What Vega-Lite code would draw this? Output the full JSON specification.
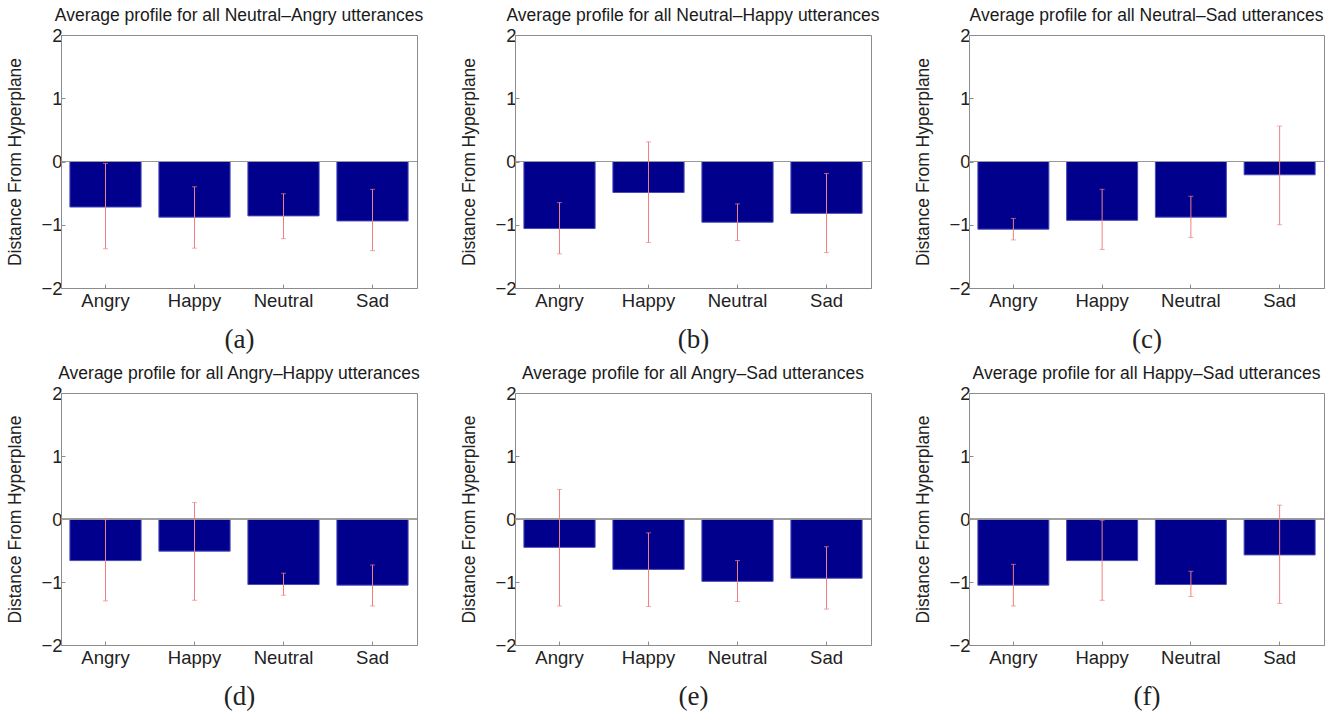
{
  "$schema": "https://vega.github.io/schema/vega-lite/v6.json",
  "padding": {"left": 6, "top": 6, "right": 5, "bottom": 5},
  "background": "white",
  "datasets": {
    "profiles": [
      {"panel": "a", "emotion": "Angry", "mean": -0.72, "lo": -1.38, "hi": -0.03},
      {"panel": "a", "emotion": "Happy", "mean": -0.88, "lo": -1.37, "hi": -0.40},
      {"panel": "a", "emotion": "Neutral", "mean": -0.86, "lo": -1.22, "hi": -0.51},
      {"panel": "a", "emotion": "Sad", "mean": -0.94, "lo": -1.41, "hi": -0.44},
      {"panel": "b", "emotion": "Angry", "mean": -1.06, "lo": -1.46, "hi": -0.65},
      {"panel": "b", "emotion": "Happy", "mean": -0.49, "lo": -1.28, "hi": 0.31},
      {"panel": "b", "emotion": "Neutral", "mean": -0.96, "lo": -1.25, "hi": -0.67},
      {"panel": "b", "emotion": "Sad", "mean": -0.82, "lo": -1.44, "hi": -0.19},
      {"panel": "c", "emotion": "Angry", "mean": -1.07, "lo": -1.24, "hi": -0.90},
      {"panel": "c", "emotion": "Happy", "mean": -0.93, "lo": -1.39, "hi": -0.44},
      {"panel": "c", "emotion": "Neutral", "mean": -0.88, "lo": -1.20, "hi": -0.55},
      {"panel": "c", "emotion": "Sad", "mean": -0.21, "lo": -1.00, "hi": 0.56},
      {"panel": "d", "emotion": "Angry", "mean": -0.66, "lo": -1.30, "hi": -0.01},
      {"panel": "d", "emotion": "Happy", "mean": -0.51, "lo": -1.29, "hi": 0.26},
      {"panel": "d", "emotion": "Neutral", "mean": -1.04, "lo": -1.21, "hi": -0.86},
      {"panel": "d", "emotion": "Sad", "mean": -1.05, "lo": -1.38, "hi": -0.73},
      {"panel": "e", "emotion": "Angry", "mean": -0.45, "lo": -1.38, "hi": 0.47},
      {"panel": "e", "emotion": "Happy", "mean": -0.80, "lo": -1.39, "hi": -0.22},
      {"panel": "e", "emotion": "Neutral", "mean": -0.99, "lo": -1.31, "hi": -0.66},
      {"panel": "e", "emotion": "Sad", "mean": -0.94, "lo": -1.43, "hi": -0.44},
      {"panel": "f", "emotion": "Angry", "mean": -1.05, "lo": -1.38, "hi": -0.72},
      {"panel": "f", "emotion": "Happy", "mean": -0.66, "lo": -1.29, "hi": -0.02},
      {"panel": "f", "emotion": "Neutral", "mean": -1.04, "lo": -1.23, "hi": -0.83},
      {"panel": "f", "emotion": "Sad", "mean": -0.57, "lo": -1.34, "hi": 0.22}
    ]
  },
  "data": {"name": "profiles"},
  "bounds": "flush",
  "columns": 3,
  "spacing": {"row": 105, "column": 98},
  "concat": [
    {
      "width": 356, "height": 253,
      "title": "Average profile for all Neutral–Angry utterances",
      "transform": [{"filter": "datum.panel === 'a'"}],
      "layer": [
        {"mark": {"type": "bar", "color": "#00008c", "stroke": "#4a4ab8", "strokeWidth": 1},
         "encoding": {
           "x": {"field": "emotion", "type": "nominal", "sort": null, "scale": {"paddingInner": 0.2, "paddingOuter": 0.1}, "axis": {"title": "(a)"}},
           "y": {"field": "mean", "type": "quantitative", "scale": {"domain": [-2, 2]}, "axis": {"title": "Distance From Hyperplane", "values": [-2, -1, 0, 1, 2], "format": "d"}}}},
        {"mark": {"type": "rule", "color": "#9a9a9a", "strokeWidth": 1}, "encoding": {"y": {"datum": 0}}},
        {"mark": {"type": "rule", "color": "#f08080", "strokeWidth": 1},
         "encoding": {"x": {"field": "emotion", "type": "nominal", "sort": null}, "y": {"field": "lo", "type": "quantitative"}, "y2": {"field": "hi"}}},
        {"mark": {"type": "tick", "color": "#f08080", "size": 5, "thickness": 1},
         "encoding": {"x": {"field": "emotion", "type": "nominal", "sort": null}, "y": {"field": "lo", "type": "quantitative"}}},
        {"mark": {"type": "tick", "color": "#f08080", "size": 5, "thickness": 1},
         "encoding": {"x": {"field": "emotion", "type": "nominal", "sort": null}, "y": {"field": "hi", "type": "quantitative"}}}
      ]
    },
    {
      "width": 356, "height": 253,
      "title": "Average profile for all Neutral–Happy utterances",
      "transform": [{"filter": "datum.panel === 'b'"}],
      "layer": [
        {"mark": {"type": "bar", "color": "#00008c", "stroke": "#4a4ab8", "strokeWidth": 1},
         "encoding": {
           "x": {"field": "emotion", "type": "nominal", "sort": null, "scale": {"paddingInner": 0.2, "paddingOuter": 0.1}, "axis": {"title": "(b)"}},
           "y": {"field": "mean", "type": "quantitative", "scale": {"domain": [-2, 2]}, "axis": {"title": "Distance From Hyperplane", "values": [-2, -1, 0, 1, 2], "format": "d"}}}},
        {"mark": {"type": "rule", "color": "#9a9a9a", "strokeWidth": 1}, "encoding": {"y": {"datum": 0}}},
        {"mark": {"type": "rule", "color": "#f08080", "strokeWidth": 1},
         "encoding": {"x": {"field": "emotion", "type": "nominal", "sort": null}, "y": {"field": "lo", "type": "quantitative"}, "y2": {"field": "hi"}}},
        {"mark": {"type": "tick", "color": "#f08080", "size": 5, "thickness": 1},
         "encoding": {"x": {"field": "emotion", "type": "nominal", "sort": null}, "y": {"field": "lo", "type": "quantitative"}}},
        {"mark": {"type": "tick", "color": "#f08080", "size": 5, "thickness": 1},
         "encoding": {"x": {"field": "emotion", "type": "nominal", "sort": null}, "y": {"field": "hi", "type": "quantitative"}}}
      ]
    },
    {
      "width": 355, "height": 253,
      "title": "Average profile for all Neutral–Sad utterances",
      "transform": [{"filter": "datum.panel === 'c'"}],
      "layer": [
        {"mark": {"type": "bar", "color": "#00008c", "stroke": "#4a4ab8", "strokeWidth": 1},
         "encoding": {
           "x": {"field": "emotion", "type": "nominal", "sort": null, "scale": {"paddingInner": 0.2, "paddingOuter": 0.1}, "axis": {"title": "(c)"}},
           "y": {"field": "mean", "type": "quantitative", "scale": {"domain": [-2, 2]}, "axis": {"title": "Distance From Hyperplane", "values": [-2, -1, 0, 1, 2], "format": "d"}}}},
        {"mark": {"type": "rule", "color": "#9a9a9a", "strokeWidth": 1}, "encoding": {"y": {"datum": 0}}},
        {"mark": {"type": "rule", "color": "#f08080", "strokeWidth": 1},
         "encoding": {"x": {"field": "emotion", "type": "nominal", "sort": null}, "y": {"field": "lo", "type": "quantitative"}, "y2": {"field": "hi"}}},
        {"mark": {"type": "tick", "color": "#f08080", "size": 5, "thickness": 1},
         "encoding": {"x": {"field": "emotion", "type": "nominal", "sort": null}, "y": {"field": "lo", "type": "quantitative"}}},
        {"mark": {"type": "tick", "color": "#f08080", "size": 5, "thickness": 1},
         "encoding": {"x": {"field": "emotion", "type": "nominal", "sort": null}, "y": {"field": "hi", "type": "quantitative"}}}
      ]
    },
    {
      "width": 356, "height": 252,
      "title": "Average profile for all Angry–Happy utterances",
      "transform": [{"filter": "datum.panel === 'd'"}],
      "layer": [
        {"mark": {"type": "bar", "color": "#00008c", "stroke": "#4a4ab8", "strokeWidth": 1},
         "encoding": {
           "x": {"field": "emotion", "type": "nominal", "sort": null, "scale": {"paddingInner": 0.2, "paddingOuter": 0.1}, "axis": {"title": "(d)"}},
           "y": {"field": "mean", "type": "quantitative", "scale": {"domain": [-2, 2]}, "axis": {"title": "Distance From Hyperplane", "values": [-2, -1, 0, 1, 2], "format": "d"}}}},
        {"mark": {"type": "rule", "color": "#9a9a9a", "strokeWidth": 1}, "encoding": {"y": {"datum": 0}}},
        {"mark": {"type": "rule", "color": "#f08080", "strokeWidth": 1},
         "encoding": {"x": {"field": "emotion", "type": "nominal", "sort": null}, "y": {"field": "lo", "type": "quantitative"}, "y2": {"field": "hi"}}},
        {"mark": {"type": "tick", "color": "#f08080", "size": 5, "thickness": 1},
         "encoding": {"x": {"field": "emotion", "type": "nominal", "sort": null}, "y": {"field": "lo", "type": "quantitative"}}},
        {"mark": {"type": "tick", "color": "#f08080", "size": 5, "thickness": 1},
         "encoding": {"x": {"field": "emotion", "type": "nominal", "sort": null}, "y": {"field": "hi", "type": "quantitative"}}}
      ]
    },
    {
      "width": 356, "height": 252,
      "title": "Average profile for all Angry–Sad utterances",
      "transform": [{"filter": "datum.panel === 'e'"}],
      "layer": [
        {"mark": {"type": "bar", "color": "#00008c", "stroke": "#4a4ab8", "strokeWidth": 1},
         "encoding": {
           "x": {"field": "emotion", "type": "nominal", "sort": null, "scale": {"paddingInner": 0.2, "paddingOuter": 0.1}, "axis": {"title": "(e)"}},
           "y": {"field": "mean", "type": "quantitative", "scale": {"domain": [-2, 2]}, "axis": {"title": "Distance From Hyperplane", "values": [-2, -1, 0, 1, 2], "format": "d"}}}},
        {"mark": {"type": "rule", "color": "#9a9a9a", "strokeWidth": 1}, "encoding": {"y": {"datum": 0}}},
        {"mark": {"type": "rule", "color": "#f08080", "strokeWidth": 1},
         "encoding": {"x": {"field": "emotion", "type": "nominal", "sort": null}, "y": {"field": "lo", "type": "quantitative"}, "y2": {"field": "hi"}}},
        {"mark": {"type": "tick", "color": "#f08080", "size": 5, "thickness": 1},
         "encoding": {"x": {"field": "emotion", "type": "nominal", "sort": null}, "y": {"field": "lo", "type": "quantitative"}}},
        {"mark": {"type": "tick", "color": "#f08080", "size": 5, "thickness": 1},
         "encoding": {"x": {"field": "emotion", "type": "nominal", "sort": null}, "y": {"field": "hi", "type": "quantitative"}}}
      ]
    },
    {
      "width": 355, "height": 252,
      "title": "Average profile for all Happy–Sad utterances",
      "transform": [{"filter": "datum.panel === 'f'"}],
      "layer": [
        {"mark": {"type": "bar", "color": "#00008c", "stroke": "#4a4ab8", "strokeWidth": 1},
         "encoding": {
           "x": {"field": "emotion", "type": "nominal", "sort": null, "scale": {"paddingInner": 0.2, "paddingOuter": 0.1}, "axis": {"title": "(f)"}},
           "y": {"field": "mean", "type": "quantitative", "scale": {"domain": [-2, 2]}, "axis": {"title": "Distance From Hyperplane", "values": [-2, -1, 0, 1, 2], "format": "d"}}}},
        {"mark": {"type": "rule", "color": "#9a9a9a", "strokeWidth": 1}, "encoding": {"y": {"datum": 0}}},
        {"mark": {"type": "rule", "color": "#f08080", "strokeWidth": 1},
         "encoding": {"x": {"field": "emotion", "type": "nominal", "sort": null}, "y": {"field": "lo", "type": "quantitative"}, "y2": {"field": "hi"}}},
        {"mark": {"type": "tick", "color": "#f08080", "size": 5, "thickness": 1},
         "encoding": {"x": {"field": "emotion", "type": "nominal", "sort": null}, "y": {"field": "lo", "type": "quantitative"}}},
        {"mark": {"type": "tick", "color": "#f08080", "size": 5, "thickness": 1},
         "encoding": {"x": {"field": "emotion", "type": "nominal", "sort": null}, "y": {"field": "hi", "type": "quantitative"}}}
      ]
    }
  ],
  "config": {
    "font": "Liberation Sans",
    "view": {"stroke": "#8c8c8c", "strokeWidth": 1},
    "title": {"fontSize": 17.5, "fontWeight": "normal", "font": "Liberation Sans", "color": "#1a1a1a", "offset": 2},
    "axis": {"grid": false, "labelFontSize": 18.5, "labelColor": "#222222", "labelFont": "Liberation Sans", "domainColor": "#8c8c8c", "tickColor": "#8c8c8c", "titleFontWeight": "normal", "titleColor": "#222222"},
    "axisX": {"labelAngle": 0, "tickSize": -4, "labelPadding": 7, "titleFont": "Liberation Serif", "titleFontSize": 27, "titlePadding": 17},
    "axisY": {"tickSize": -4, "labelPadding": 3, "titleFont": "Liberation Sans", "titleFontSize": 17.5, "titlePadding": 16}
  }
}
